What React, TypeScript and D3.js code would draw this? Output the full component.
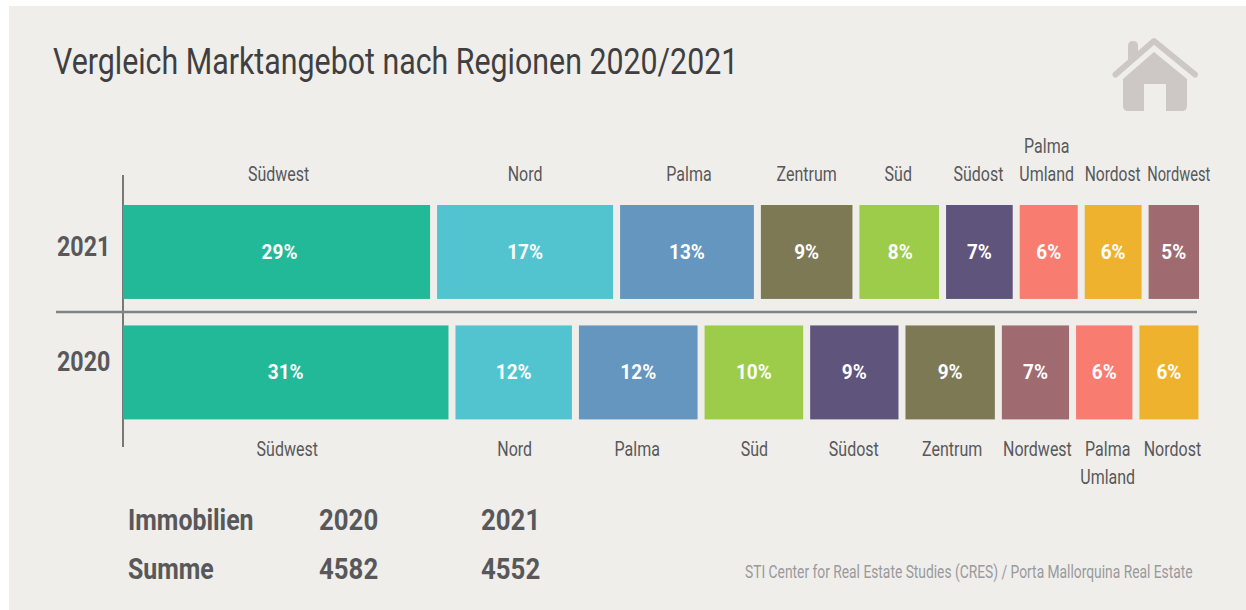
import React from "react";
import * as d3 from "d3";

const title = "Vergleich Marktangebot nach Regionen 2020/2021";
const years = ["2021", "2020"];
const regions2021 = ["Südwest", "Nord", "Palma", "Zentrum", "Süd", "Südost", "Palma Umland", "Nordost", "Nordwest"];
const values2021 = [29.0, 16.9, 13.0, 9.1, 8.0, 6.8, 6.0, 5.9, 5.3];
const labels2021 = ["29%", "17%", "13%", "9%", "8%", "7%", "6%", "6%", "5%"];
const regions2020 = ["Südwest", "Nord", "Palma", "Süd", "Südost", "Zentrum", "Nordwest", "Palma Umland", "Nordost"];
const values2020 = [30.7, 11.4, 11.6, 9.75, 8.8, 8.9, 6.85, 5.85, 6.1];
const labels2020 = ["31%", "12%", "12%", "10%", "9%", "9%", "7%", "6%", "6%"];
const regionNames = ["Südwest", "Nord", "Palma", "Zentrum", "Süd", "Südost", "Palma Umland", "Nordost", "Nordwest"];
const regionColors = ["#22b998", "#52c4cf", "#6496bf", "#7e7955", "#9ccc4a", "#5f547c", "#f87c70", "#efb22e", "#9f6b71"];
const tableRows = [["Immobilien", "2020", "2021"], ["Summe", "4582", "4552"]];
const source = "STI Center for Real Estate Studies (CRES) / Porta Mallorquina Real Estate";

const W = 1246, H = 610;
const FONT = "Roboto, sans-serif";
const GAP = 7;
const nudgeAbove = [2, 0, 2, 0, -1, -1, -2, -0.5, 5];
const squeezeAbove = [0.82, 0.82, 0.82, 0.82, 0.82, 0.82, 0.82, 0.8, 0.75];
const nudgeBelow = [1.5, 1, -1, 0.5, -0.5, 2, 2, 3.5, 3.5];
const nudgeValue = [3, 0, 0, 0, 1, 0, 0, 0, 0];

const x = d3.scaleLinear().domain([0, 100]).range([123, 1206]);
const y = d3.scaleBand().domain(years).range([205, 419.4]).paddingInner(0.22);
const color = d3.scaleOrdinal<string, string>().domain(regionNames).range(regionColors);

function T({ x: tx, y: ty, sx, anchor, size, weight, fill, children }: any) {
  return (
    <text transform={`translate(${tx},${ty}) scale(${sx},1)`} textAnchor={anchor ?? "start"} fontSize={size}
      fontWeight={weight ?? 400} fill={fill} fontFamily={FONT}>{children}</text>
  );
}

function Row({ year, regions, values, labels, above }: { year: string; regions: string[]; values: number[]; labels: string[]; above: boolean }) {
  const cum = d3.cumsum(values);
  const top = y(year)!, bw = y.bandwidth();
  return (
    <g>
      {regions.map((r, i) => {
        const x0 = x(i === 0 ? 0 : cum[i - 1]);
        const x1 = x(cum[i]) - GAP;
        const cx = (x0 + x1) / 2;
        const words = r.split(" ");
        const lx = cx + (above ? nudgeAbove[i] : nudgeBelow[i]);
        const ly = above ? top - 24 : top + bw + 37;
        return (
          <g key={r}>
            <rect x={x0} y={top} width={x1 - x0} height={bw} fill={color(r)} />
            <T x={cx + (above ? nudgeValue[i] : 0)} y={top + bw / 2 + 6.7} sx={0.95} anchor="middle" size={20} weight={700} fill="#fff">{labels[i]}</T>
            {words.map((w, k) => (
              <T key={w} x={lx} y={above ? ly - (words.length - 1 - k) * 28 : ly + k * 28} sx={above ? squeezeAbove[i] : 0.82}
                anchor="middle" size={19.5} fill="#58585a">{w}</T>
            ))}
          </g>
        );
      })}
    </g>
  );
}

export default function App() {
  return (
    <svg width={W} height={H} viewBox={`0 0 ${W} ${H}`} style={{ position: "absolute", left: 0, top: 0, display: "block" }}>
      <rect width={W} height={H} fill="#fff" />
      <rect x={9} y={6} width={W - 9} height={H - 6} fill="#efeeeb" />
      <T x={53} y={74} sx={0.82} size={37} fill="#3f3f41">{title}</T>

      <g fill="#cdc8c5">
        <path d="M1115.5 74.5 L1154 41 L1195 74.5" fill="none" stroke="#cdc8c5" strokeWidth={6} strokeLinecap="round" strokeLinejoin="round" />
        <path d="M1123 79 L1154 52 L1187 79 L1187 106 Q1187 111 1182 111 L1166 111 L1166 84 L1144 84 L1144 111 L1128 111 Q1123 111 1123 106 Z" />
        <path d="M1128 60 L1128 46 Q1128 41 1133 41 Q1138 41 1138 46 L1138 52 Z" />
      </g>

      <line x1={123} x2={123} y1={175} y2={447} stroke="#77787a" strokeWidth={2} />
      <line x1={56} x2={1197} y1={312} y2={312} stroke="#818284" strokeWidth={2.5} />

      <Row year="2021" regions={regions2021} values={values2021} labels={labels2021} above />
      <Row year="2020" regions={regions2020} values={values2020} labels={labels2020} above={false} />

      <T x={57} y={256} sx={0.86} size={27} weight={700} fill="#58585a">2021</T>
      <T x={57} y={371} sx={0.86} size={27} weight={700} fill="#58585a">2020</T>

      {tableRows.map((row, i) => (
        <g key={row[0]}>
          <T x={128} y={529.5 + i * 49} sx={0.83} size={30} weight={700} fill="#58585a">{row[0]}</T>
          <T x={319} y={529.5 + i * 49} sx={0.86} size={30} weight={700} fill="#58585a">{row[1]}</T>
          <T x={481} y={529.5 + i * 49} sx={0.86} size={30} weight={700} fill="#58585a">{row[2]}</T>
        </g>
      ))}
      <T x={745} y={578} sx={0.747} size={18.5} fill="#9a9a9c">{source}</T>
    </svg>
  );
}
